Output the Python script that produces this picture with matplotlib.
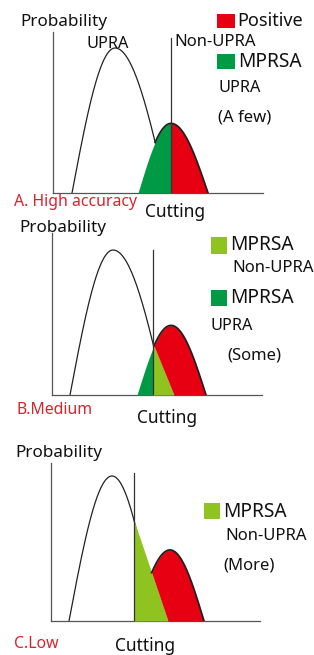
import numpy as np
import matplotlib.pyplot as plt
from matplotlib.patches import Rectangle

plt.rcParams['font.family'] = ['Noto Sans', 'DejaVu Sans']

W, H = 314, 655
RED = '#e60012'
DARK_GREEN = '#009944'
LIGHT_GREEN = '#8fc31f'
TITLE_RED = '#d9232e'

# schematic score distributions (x in score units, height relative to UPRA peak)
titles = ['A. High accuracy', 'B.Medium', 'C.Low']
upra_start = [19, 18, 18]
upra_peak = [62, 61, 61]
upra_end = [114, 113, 104]
cut = [118, 101, 83]
tail_end = [None, 122, 117]   # misclassified Non-UPRA tail past the cut
pos_start = [85, 85, 84]
pos_peak = [118, 119, 119]
pos_end = [155, 154, 153]
pos_height = [0.48, 0.48, 0.49]
cut_top = [1.07, 1.0, 1.02]

# axes boxes in pixels: left, top, right, baseline
boxes = [(53, 32, 263, 193), (52, 233, 262, 395), (51, 463, 260, 621)]
peak_px = [145, 145, 145]


def arch(x, a, p, b, h):
    y = np.zeros_like(x)
    left = (x >= a) & (x <= p)
    right = (x > p) & (x <= b)
    y[left] = h * np.cos(np.pi / 2 * (p - x[left]) / (p - a))
    y[right] = h * np.cos(np.pi / 2 * (x[right] - p) / (b - p))
    return y


def fx(px):
    return px / W


def fy(py):
    return 1 - py / H


fig = plt.figure(figsize=(W / 100, H / 100), dpi=100)

for i in range(3):
    l, t, r, b = boxes[i]
    ax = fig.add_axes([fx(l), fy(b), (r - l) / W, (b - t) / H])
    ax.set_xlim(0, r - l)
    ax.set_ylim(0, (b - t) / peak_px[i])
    for s in ['top', 'right']:
        ax.spines[s].set_visible(False)
    for s in ['left', 'bottom']:
        ax.spines[s].set_color('#555555')
        ax.spines[s].set_linewidth(0.9)
    ax.set_xticks([])
    ax.set_yticks([])
    ax.patch.set_alpha(0)

    x = np.linspace(0, r - l, 2000)
    big = arch(x, upra_start[i], upra_peak[i], upra_end[i], 1.0)
    small = arch(x, pos_start[i], pos_peak[i], pos_end[i], pos_height[i])
    c = cut[i]

    ax.plot(x[big > 0], big[big > 0], color='#222222', lw=0.9, zorder=2)

    if tail_end[i] is None:
        m = (x <= c) & (small > 0)
        ax.fill_between(x[m], 0, small[m], color=DARK_GREEN, lw=0, zorder=3)
        m = (x >= c) & (small > 0)
        ax.fill_between(x[m], 0, small[m], color=RED, lw=0, zorder=3)
        hidden = big
    else:
        h_cut = arch(np.array([c], float), upra_start[i], upra_peak[i], upra_end[i], 1.0)[0]
        tri = np.where(x >= c, np.clip(h_cut * (tail_end[i] - x) / (tail_end[i] - c), 0, None), 0)
        m = (x <= c) & (small > 0)
        if m.any():
            ax.fill_between(x[m], 0, small[m], color=DARK_GREEN, lw=0, zorder=3)
        m = (x >= c) & (x <= tail_end[i])
        ax.fill_between(x[m], 0, tri[m], color=LIGHT_GREEN, lw=0, zorder=3)
        m = (x >= c) & (small > tri)
        ax.fill_between(x[m], tri[m], small[m], color=RED, lw=0, zorder=3)
        hidden = np.where(x < c, big, tri)

    m = (small > hidden) & (small > 0) & (x > upra_peak[i])
    ax.plot(x[m], small[m], color='#222222', lw=1.3, zorder=4)
    ax.plot([c, c], [0, cut_top[i]], color='#333333', lw=0.9, zorder=5)


def txt(x, y, s, size=12.3, color='#111111'):
    fig.text(fx(x), fy(y), s, ha='left', va='center', fontsize=size, color=color)


def swatch(x0, y0, x1, y1, color):
    fig.patches.append(Rectangle((fx(x0), fy(y1)), (x1 - x0) / W, (y1 - y0) / H,
                                 transform=fig.transFigure, color=color, lw=0))


# panel A
txt(20, 22, 'Probability')
txt(87, 44, 'UPRA', 11.7)
txt(174, 42, 'Non-UPRA', 12)
swatch(217, 14, 235, 28, RED)
txt(237, 21, 'Positive', 13)
swatch(217, 54, 235, 69, DARK_GREEN)
txt(238, 62, 'MPRSA', 13.8)
txt(218, 88, 'UPRA', 11.7)
txt(218, 118, '(A few)', 12)
txt(14, 202, titles[0], 11.4, TITLE_RED)
txt(145, 212, 'Cutting', 12.5)

# panel B
txt(19, 228, 'Probability')
swatch(211, 237, 227, 254, LIGHT_GREEN)
txt(230, 245, 'MPRSA', 13.8)
txt(232, 268, 'Non-UPRA', 12)
swatch(211, 290, 227, 306, DARK_GREEN)
txt(230, 298, 'MPRSA', 13.8)
txt(210, 326, 'UPRA', 11.7)
txt(227, 355, '(Some)', 12)
txt(17, 410, titles[1], 11.4, TITLE_RED)
txt(137, 418, 'Cutting', 12.5)

# panel C
txt(15, 453, 'Probability')
swatch(204, 503, 220, 519, LIGHT_GREEN)
txt(223, 512, 'MPRSA', 13.8)
txt(225, 536, 'Non-UPRA', 12)
txt(223, 565, '(More)', 12)
txt(14, 644, titles[2], 11.4, TITLE_RED)
txt(115, 646, 'Cutting', 12.5)

fig.savefig('out.png', dpi=100)
